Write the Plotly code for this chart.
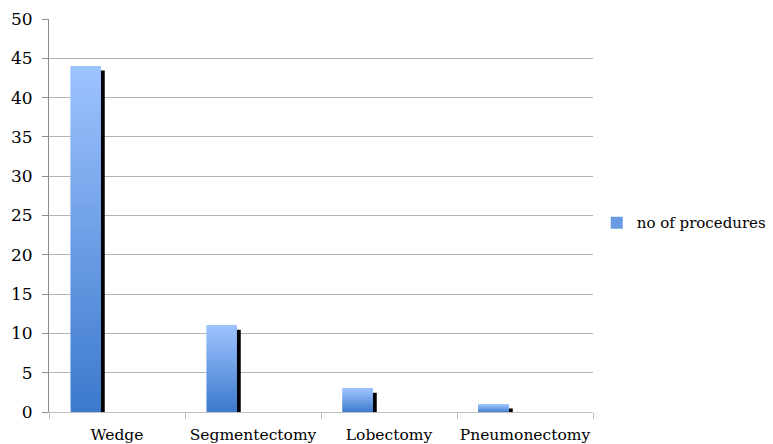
import plotly.graph_objects as go

# Data
categories = ["Wedge", "Segmentectomy", "Lobectomy", "Pneumonectomy"]
procedures = [44, 11, 3, 1]
series_name = "no of procedures"

# Styling
FONT = "DejaVu Serif"
TOP_RGB = (158, 196, 255)
BOTTOM_RGB = (60, 121, 204)
N_SLICES = 60
BAR_WIDTH = 0.22
BAR_OFFSET = -0.34
SHADOW_SHIFT = 0.03


def blend(t):
    r, g, b = (round(BOTTOM_RGB[i] + (TOP_RGB[i] - BOTTOM_RGB[i]) * t) for i in range(3))
    return f"rgb({r},{g},{b})"


fig = go.Figure()

# Drop shadow behind each bar
fig.add_trace(go.Bar(
    x=categories,
    y=[v - 0.55 + 0.25 for v in procedures],
    base=[-0.25] * len(procedures),
    width=BAR_WIDTH,
    offset=BAR_OFFSET + SHADOW_SHIFT,
    marker=dict(color="black", line=dict(width=0)),
    showlegend=False,
    hoverinfo="skip",
    cliponaxis=False,
))

# Full bar (also provides the legend swatch)
fig.add_trace(go.Bar(
    x=categories,
    y=procedures,
    width=BAR_WIDTH,
    offset=BAR_OFFSET,
    name=series_name,
    marker=dict(color=blend(0.45), line=dict(width=0)),
))

# Vertical gradient: overlapping stacked slices, dark at the base, light at the top
for k in range(N_SLICES):
    t = (k + 0.5) / N_SLICES
    bases = [v * k / N_SLICES for v in procedures]
    heights = [min(2 * v / N_SLICES, v - b) for v, b in zip(procedures, bases)]
    fig.add_trace(go.Bar(
        x=categories,
        y=heights,
        base=bases,
        width=BAR_WIDTH,
        offset=BAR_OFFSET,
        marker=dict(color=blend(t), line=dict(width=0)),
        showlegend=False,
        hoverinfo="skip",
    ))

fig.update_layout(
    width=773,
    height=444,
    margin=dict(l=49, r=180, t=19, b=32),
    paper_bgcolor="white",
    plot_bgcolor="white",
    barmode="overlay",
    font=dict(family=FONT, size=15, color="black"),
    showlegend=True,
    legend=dict(
        xref="container", yref="container",
        x=0.772, y=0.498, xanchor="left", yanchor="middle",
        font=dict(family=FONT, size=15, color="black"),
        itemwidth=30,
        bgcolor="rgba(0,0,0,0)",
    ),
    xaxis=dict(
        type="category",
        automargin=False,
        tickangle=0,
        showgrid=False,
        showline=True,
        linecolor="#BFBFBF",
        linewidth=1,
        ticks="outside",
        ticklen=6,
        tickcolor="#BFBFBF",
        tickson="boundaries",
        tickfont=dict(family=FONT, size=15.5, color="black"),
        ticklabelstandoff=8,
    ),
    yaxis=dict(
        automargin=False,
        range=[0, 50],
        tick0=0,
        dtick=5,
        showgrid=True,
        gridcolor="#B4B4B4",
        gridwidth=1,
        zeroline=False,
        showline=True,
        linecolor="#8C8C8C",
        linewidth=1,
        ticks="outside",
        ticklen=6,
        tickcolor="#8C8C8C",
        tickfont=dict(family=FONT, size=17, color="black"),
        ticklabelstandoff=6,
    ),
)

fig.write_html("out.html")
